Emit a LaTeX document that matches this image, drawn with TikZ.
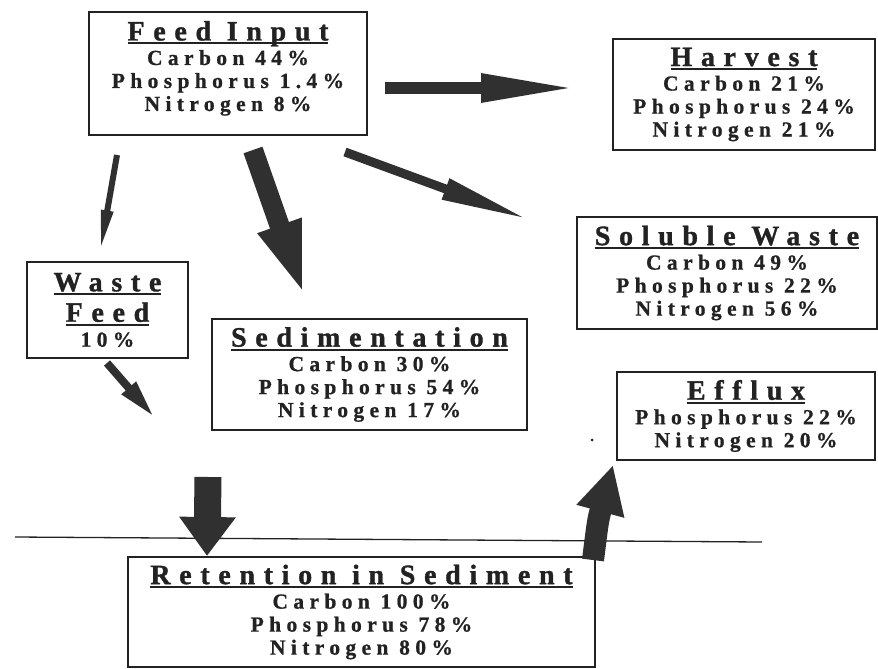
\documentclass[tikz,border=0pt]{standalone}
\usepackage{fontspec}
\setmainfont{Liberation Serif}
\newfontfamily\bodyfont[LetterSpace=25,FakeBold=0.8]{Liberation Serif}
\newfontfamily\headfont[LetterSpace=31,FakeBold=1.2]{Liberation Serif}
\usetikzlibrary{arrows.meta}
\definecolor{inkc}{HTML}{222222}
\definecolor{arrowc}{HTML}{303030}
\newcommand\ttl[1]{{\headfont\bfseries\fontsize{28}{28}\selectfont\setbox0\hbox{#1}\rlap{\rule[-4pt]{\wd0}{2pt}}\box0}}
\tikzset{
  box/.style={draw=inkc, line width=1.4pt, align=center, text=inkc, inner sep=0pt,
    font=\bodyfont\bfseries\fontsize{21.5}{23}\selectfont},
  fat/.style n args={3}{draw=arrowc, line width=#1, -{Triangle[width=#2,length=#3]}}
}
\begin{document}
\begin{tikzpicture}[x=1pt,y=-1pt]
\fill[white] (0,0) rectangle (878,669);
\useasboundingbox (0,0) rectangle (878,669);

% boxes
\node[box, minimum width=278pt, minimum height=123pt] (feed) at (228,73.5)
  {\ttl{Feed Input}\\[1.5pt] Carbon 44\%\\ Phosphorus 1.4\%\\ Nitrogen 8\%\rule[-15pt]{0pt}{1pt}};
\node[box, minimum width=262pt, minimum height=111pt] (harvest) at (744,94.5)
  {\ttl{Harvest}\\[1.5pt] Carbon 21\%\\ Phosphorus 24\%\\ Nitrogen 21\%};
\node[box, minimum width=300pt, minimum height=112pt] (soluble) at (727,273)
  {\ttl{Soluble Waste}\\[1.5pt] Carbon 49\%\\ Phosphorus 22\%\\ Nitrogen 56\%};
\node[box, minimum width=161pt, minimum height=96pt] (wastefeed) at (107.5,310)
  {\ttl{Waste}\\[6pt] \ttl{Feed}\\[2pt] 10\%};
\node[box, minimum width=315pt, minimum height=111pt] (sed) at (369.5,374.5)
  {\ttl{Sedimentation}\\[1.5pt] Carbon 30\%\\ Phosphorus 54\%\\ Nitrogen 17\%};
\node[box, minimum width=258pt, minimum height=88pt] (efflux) at (746,416)
  {\ttl{Efflux}\\[1.5pt] Phosphorus 22\%\\ Nitrogen 20\%};
\node[box, minimum width=467pt, minimum height=110pt] (ret) at (361.5,612)
  {\ttl{Retention in Sediment}\\[1.5pt] Carbon 100\%\\ Phosphorus 78\%\\ Nitrogen 80\%};

% sediment surface line
\coordinate (L1) at (15,537);
\coordinate (L2) at (762,542);
\draw[draw=inkc, line width=1.3pt] (L1) -- (L2);

% arrow end points
\coordinate (h1) at (385,88);   \coordinate (h2) at (578,88);
\coordinate (s1) at (345,152);  \coordinate (s2) at (530,220);
\coordinate (w1) at (117,155);  \coordinate (w2) at (100,252);
\coordinate (d1) at (253,150);  \coordinate (d2) at (305,298);
\coordinate (f1) at (107,363);  \coordinate (f2) at (155,418);
\coordinate (r1) at (208,477);  \coordinate (r2) at (207,556);
\coordinate (e1) at (593,560);  \coordinate (e2) at (613,465);
\coordinate (ec) at (598,520);

\draw[fat={12pt}{26pt}{97pt}] (h1) -- (h2);
\draw[fat={9pt}{20pt}{90pt}] (s1) -- (s2);
\draw[fat={6pt}{11pt}{42pt}] (w1) -- (w2);
\draw[fat={20pt}{40pt}{77pt}] (d1) -- (d2);
\draw[fat={8pt}{17pt}{40pt}] (f1) -- (f2);
\draw[fat={27pt}{54pt}{39pt}] (r1) -- (r2);
\draw[fat={22pt}{46pt}{48pt}] (e1) .. controls (ec) .. (e2);

% stray dot
\fill[inkc] (592,440) circle (1.5pt);
\end{tikzpicture}
\end{document}
